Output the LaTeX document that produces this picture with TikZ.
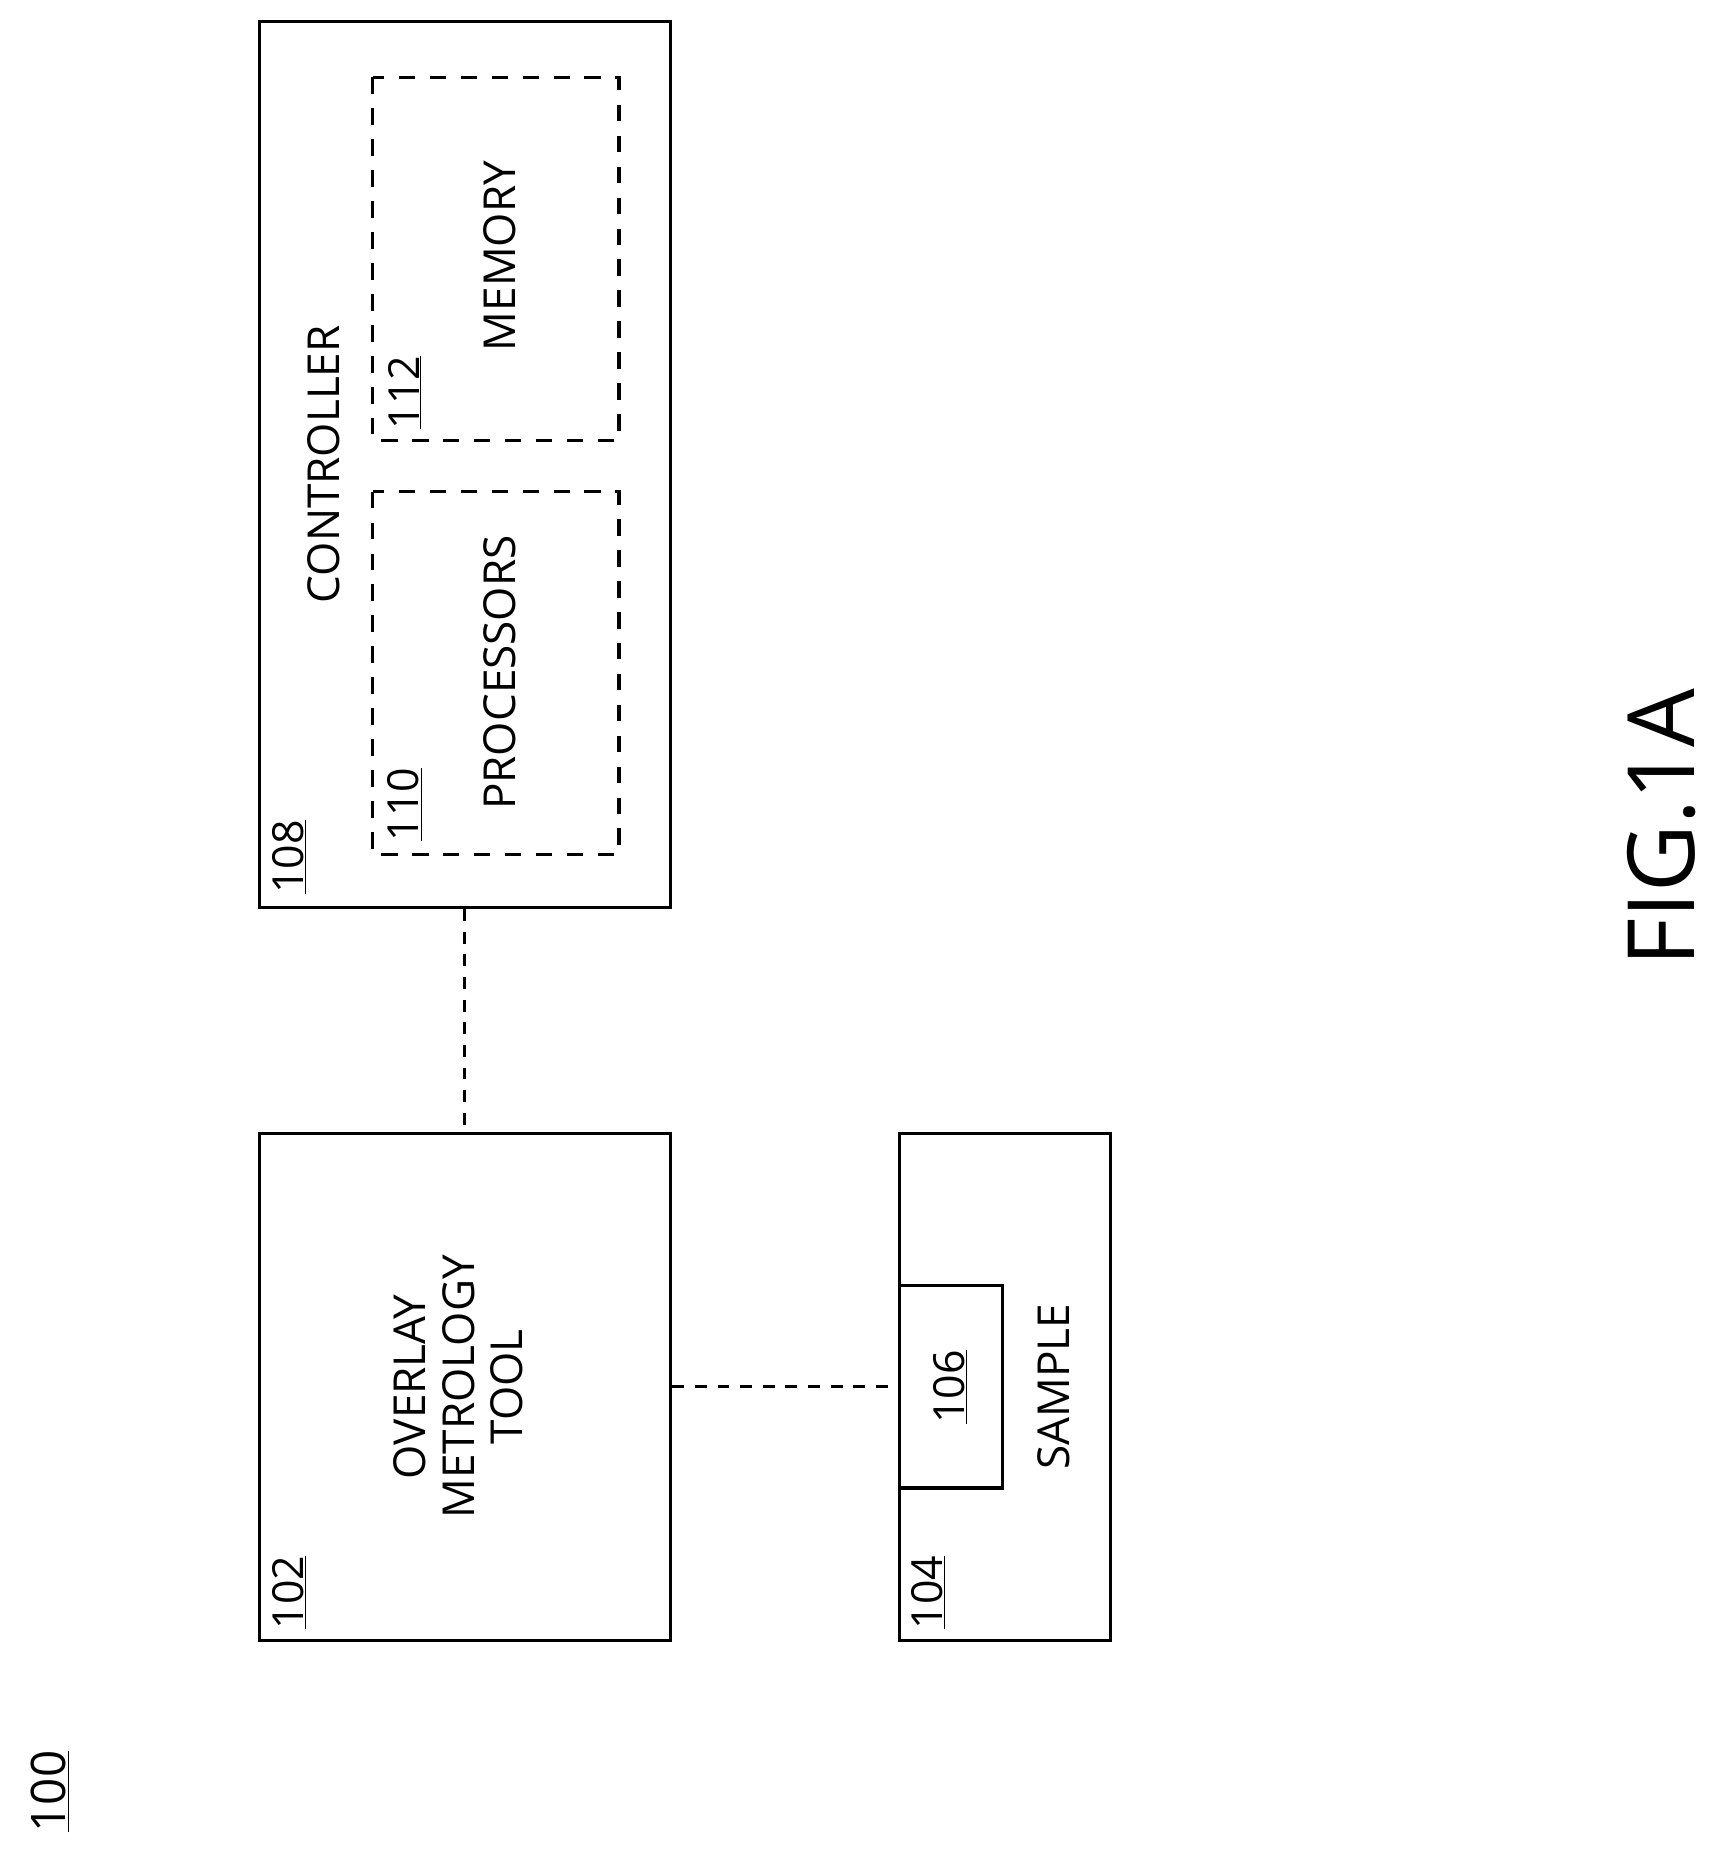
\documentclass[tikz,border=0pt]{standalone}
\usepackage{fontspec}
\setmainfont{Open Sans}
\begin{document}
\begin{tikzpicture}[x=1pt,y=-1pt,line width=2.6pt,
 box/.style={draw},
 dbox/.style={draw,dash pattern=on 14pt off 12pt},
 dl/.style={draw,dash pattern=on 10pt off 9pt},
 t/.style={rotate=90,font=\fontsize{37}{41}\selectfont,inner sep=0pt,align=center},
 n/.style={rotate=90,font=\fontsize{36}{40}\selectfont,inner sep=0pt}]
\useasboundingbox (0,0) rectangle (1445,1555);
\draw[box] (218,18) rectangle (563,762);
\node (ctl) [inner sep=0pt] at (390,762) {};
\draw[dbox] (313,65) rectangle (520,370);
\draw[dbox] (313,413) rectangle (520,718);
\draw[box] (218,952) rectangle (563,1378);
\node (tool) [inner sep=0pt] at (390,952) {};
\node (toolr) [inner sep=0pt] at (563,1165) {};
\draw[box] (756,952) rectangle (933,1378);
\draw[box] (756,1080) rectangle (842,1250);
\node (s106) [inner sep=0pt] at (756,1165) {};
\draw[dl] (ctl) -- (tool);
\draw[dl] (toolr) -- (s106);
\node[t] (controller) at (272,390) {CONTROLLER};
\node[n,anchor=west] (l108) at (243,752) {\underline{108}};
\node[n,anchor=west] (l110) at (340,708) {\underline{110}};
\node[t] (proc) at (420,565) {PROCESSORS};
\node[n,anchor=west] (l112) at (340,362) {\underline{112}};
\node[t] (mem) at (420,215) {MEMORY};
\node[t] (ovl) at (385,1165) {OVERLAY\\METROLOGY\\TOOL};
\node[n,anchor=west] (l102) at (243,1370) {\underline{102}};
\node[n,anchor=west] (l104) at (780,1370) {\underline{104}};
\node[n] (l106) at (798,1165) {\underline{106}};
\node[t] (sample) at (885,1165) {SAMPLE};
\node[n,font=\fontsize{40}{46}\selectfont] (l100) at (42,1505) {\underline{100}};
\node[rotate=90,inner sep=0pt,font=\fontsize{78}{90}\selectfont] (fig) at (1396,695) {FIG.1A};
\end{tikzpicture}
\end{document}
